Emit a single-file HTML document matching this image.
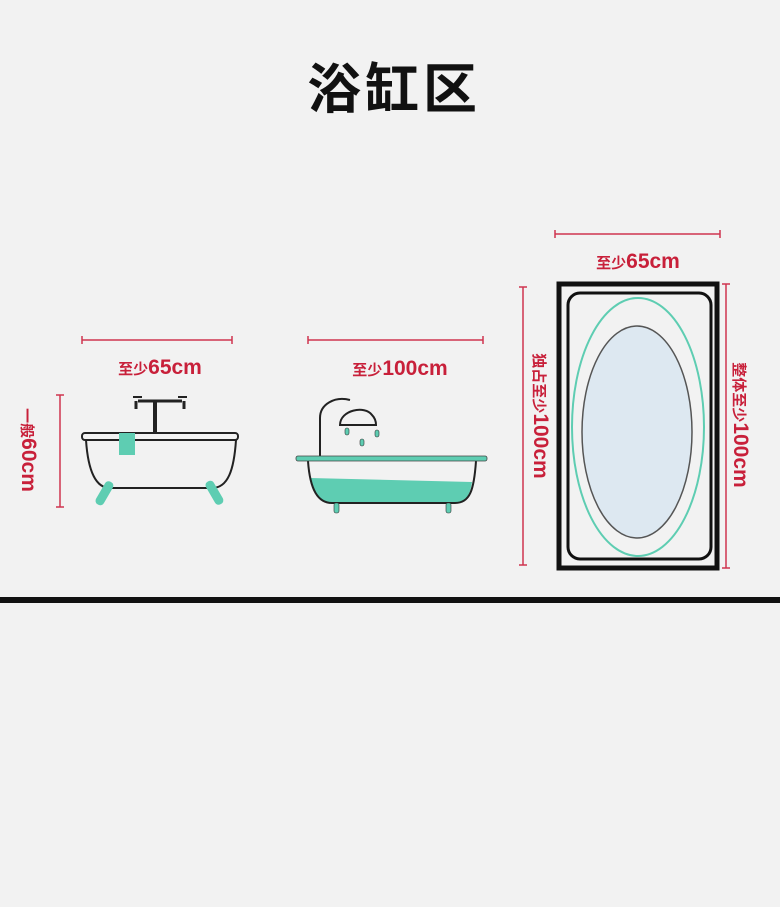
<!DOCTYPE html>
<html><head><meta charset="utf-8"><style>
html,body{margin:0;padding:0;background:#f2f2f2;}
svg{display:block}
text{font-family:"Liberation Sans","Noto Sans CJK SC",sans-serif;}
</style></head><body>
<svg width="780" height="907" viewBox="0 0 780 907" xmlns="http://www.w3.org/2000/svg">
<rect width="780" height="907" fill="#f2f2f2"/>
<text x="394" y="108" text-anchor="middle" font-size="54" font-weight="bold" fill="#111" style="font-family:'Noto Sans CJK SC',sans-serif;letter-spacing:4px">浴缸区</text>
<rect x="0" y="597" width="780" height="6" fill="#111"/>

<g stroke="#d0344f" stroke-width="1.5" fill="none">
<line x1="82" y1="340" x2="232" y2="340"/><line x1="82" y1="336" x2="82" y2="344"/><line x1="232" y1="336" x2="232" y2="344"/>
<line x1="60" y1="395" x2="60" y2="507"/><line x1="56" y1="395" x2="64" y2="395"/><line x1="56" y1="507" x2="64" y2="507"/>
<line x1="308" y1="340" x2="483" y2="340"/><line x1="308" y1="336" x2="308" y2="344"/><line x1="483" y1="336" x2="483" y2="344"/>
<line x1="555" y1="234" x2="720" y2="234"/><line x1="555" y1="230" x2="555" y2="238"/><line x1="720" y1="230" x2="720" y2="238"/>
<line x1="523" y1="287" x2="523" y2="565"/><line x1="519" y1="287" x2="527" y2="287"/><line x1="519" y1="565" x2="527" y2="565"/>
<line x1="726" y1="284" x2="726" y2="568"/><line x1="722" y1="284" x2="730" y2="284"/><line x1="722" y1="568" x2="730" y2="568"/>
</g>
<g fill="#c8203a" font-weight="bold">
<text x="160" y="374" text-anchor="middle" font-size="21"><tspan font-size="15">至少</tspan>65cm</text>
<text x="400" y="375" text-anchor="middle" font-size="21"><tspan font-size="15">至少</tspan>100cm</text>
<text x="638" y="268" text-anchor="middle" font-size="21"><tspan font-size="15">至少</tspan>65cm</text>
<text transform="translate(22,450) rotate(90)" text-anchor="middle" font-size="21"><tspan font-size="15">一般</tspan>60cm</text>
<text transform="translate(534,416) rotate(90)" text-anchor="middle" font-size="21"><tspan font-size="15">独占至少</tspan>100cm</text>
<text transform="translate(734,425) rotate(90)" text-anchor="middle" font-size="21"><tspan font-size="15">整体至少</tspan>100cm</text>
</g>

<!-- tub 1 -->
<g stroke="#222" stroke-width="2" fill="none">
<path d="M86 440 C88 470 95 488 110 488 L212 488 C228 488 234 470 236 440"/>
<rect x="82" y="433" width="156" height="7" rx="3" fill="#f2f2f2"/>
<line x1="155" y1="400" x2="155" y2="433" stroke-width="4"/>
<line x1="138" y1="401" x2="182" y2="401" stroke-width="3"/>
<path d="M133 397 h9 M178 397 h9" stroke-width="2"/>
<path d="M136 401 v8 M184 401 v8" stroke-width="3"/>
</g>
<rect x="119" y="433" width="16" height="22" fill="#5ecdb2"/>
<rect x="100" y="480" width="9" height="26" rx="4" fill="#5ecdb2" transform="rotate(30 104 493)"/>
<rect x="210" y="480" width="9" height="26" rx="4" fill="#5ecdb2" transform="rotate(-30 214 493)"/>

<!-- tub 2 -->
<path d="M310 478 L472 482 C470 495 466 503 455 503 L332 503 C320 503 314 495 310 478Z" fill="#5ecdb2"/>
<g stroke="#222" stroke-width="2" fill="none">
<path d="M308 461 C310 490 318 503 332 503 L455 503 C470 503 474 490 476 461"/>
<path d="M320 456 V418 C320 404 335 396 350 400"/>
<path d="M340 425 C340 410 365 405 372 415 C375 418 376 422 376 425 Z" fill="#f2f2f2"/>
</g>
<rect x="296" y="456" width="191" height="5" rx="2" fill="#5ecdb2" stroke="#444" stroke-width="0.8"/>
<g fill="#5ecdb2" stroke="#333" stroke-width="0.6">
<rect x="345" y="428" width="4" height="7" rx="2"/><rect x="375" y="430" width="4" height="7" rx="2"/><rect x="360" y="439" width="4" height="7" rx="2"/>
<rect x="334" y="503" width="5" height="10" rx="2"/><rect x="446" y="503" width="5" height="10" rx="2"/>
</g>

<!-- tub 3 -->
<rect x="559" y="284" width="158" height="284" fill="#f2f2f2" stroke="#111" stroke-width="5"/>
<rect x="568" y="293" width="143" height="266" rx="12" fill="none" stroke="#111" stroke-width="3"/>
<ellipse cx="638" cy="427" rx="66" ry="129" fill="none" stroke="#5ecdb2" stroke-width="2"/>
<ellipse cx="637" cy="432" rx="55" ry="106" fill="#dde8f1" stroke="#555" stroke-width="1.5"/>
</svg>
</body></html>
